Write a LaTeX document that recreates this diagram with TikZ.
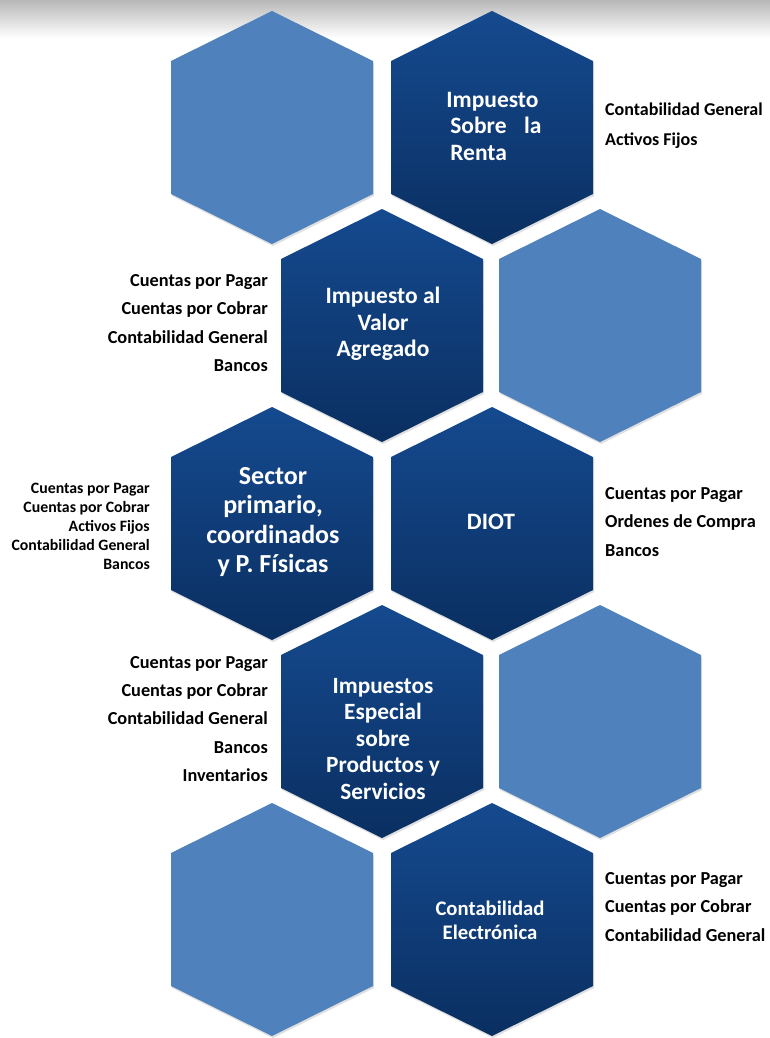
\documentclass[tikz,border=0pt]{standalone}
\usepackage{fontspec}
\setmainfont{Carlito}
\usepackage{tikz}
\usetikzlibrary{shadows}

\definecolor{hexlightblue}{RGB}{79,129,189}
\definecolor{hextop}{RGB}{21,74,143}
\definecolor{hexbottom}{RGB}{10,47,97}

\begin{document}
\begin{tikzpicture}[
        x=1pt, y=-1pt,
        hexlight/.style={fill=hexlightblue, drop shadow={opacity=0.25, shadow xshift=1pt, shadow yshift=-2pt}},
        hexdark/.style={top color=hextop, bottom color=hexbottom, drop shadow={opacity=0.25, shadow xshift=1pt, shadow yshift=-2pt}},
        hextext/.style={text=white, align=center, inner sep=0pt},
        sidelist/.style={text=black, inner sep=0pt, font=\bfseries\fontsize{18.3}{28.4}\selectfont}
      ]
        \useasboundingbox (0,0) rectangle (770,1038);
        \fill[white] (0,0) rectangle (770,1038);
        \shade[top color=black!28, bottom color=white] (0,0) rectangle (770,38);

        \foreach \x/\y/\s in {272/128/hexlight, 492/128/hexdark,
                              382/326/hexdark, 600/326/hexlight,
                              272/524/hexdark, 492/524/hexdark,
                              382/722/hexdark, 600/722/hexlight,
                              272/920/hexlight, 492/920/hexdark}
          \path[\s] (\x,\y) ++(0,-117) -- ++(101,50) -- ++(0,133) -- ++(-101,50)
            -- ++(-101,-50) -- ++(0,-133) -- cycle;

        \node[hextext, align=left, font=\bfseries\fontsize{23.5}{26.5}\selectfont] (isr) at (494,126)
          {Impuesto\\ \,Sobre\hspace{0.75em}la\\ \,Renta};
        \node[hextext, font=\bfseries\fontsize{23.5}{26.5}\selectfont] (iva) at (383,324)
          {Impuesto al\\ Valor\\ Agregado};
        \node[hextext, font=\bfseries\fontsize{26}{29.5}\selectfont] (sector) at (273,522)
          {Sector\\ primario,\\ coordinados\\ y P. Físicas};
        \node[hextext, font=\bfseries\fontsize{23.5}{26}\selectfont] (diot) at (491,522) {DIOT};
        \node[hextext, font=\bfseries\fontsize{23.3}{26.5}\selectfont] (ieps) at (383,739)
          {Impuestos\\ Especial\\ sobre\\ Productos\ y\\ Servicios};
        \node[hextext, font=\bfseries\fontsize{20.7}{24}\selectfont] (ce) at (490,920)
          {Contabilidad\\ Electrónica};

        \node[sidelist, anchor=west, align=left, font=\bfseries\fontsize{18}{30}\selectfont] (isrmod) at (605,126)
          {Contabilidad\ General\\ Activos Fijos};
        \node[sidelist, anchor=east, align=right] (ivamod) at (268,323)
          {Cuentas por Pagar\\ Cuentas por Cobrar\\ Contabilidad\ General\\ Bancos};
        \node[sidelist, anchor=east, align=right, font=\bfseries\fontsize{15.8}{19}\selectfont] (sectormod) at (150,526)
          {Cuentas por Pagar\\ Cuentas por Cobrar\\ Activos Fijos\\ Contabilidad\ General\\ Bancos};
        \node[sidelist, anchor=west, align=left] (diotmod) at (605,522)
          {Cuentas por Pagar\\ Ordenes de Compra\\ Bancos};
        \node[sidelist, anchor=east, align=right] (iepsmod) at (268,719)
          {Cuentas por Pagar\\ Cuentas por Cobrar\\ Contabilidad\ General\\ Bancos\\ Inventarios};
        \node[sidelist, anchor=west, align=left] (cemod) at (605,907)
          {Cuentas por Pagar\\ Cuentas por Cobrar\\ Contabilidad\ General};
      \end{tikzpicture}
\end{document}
